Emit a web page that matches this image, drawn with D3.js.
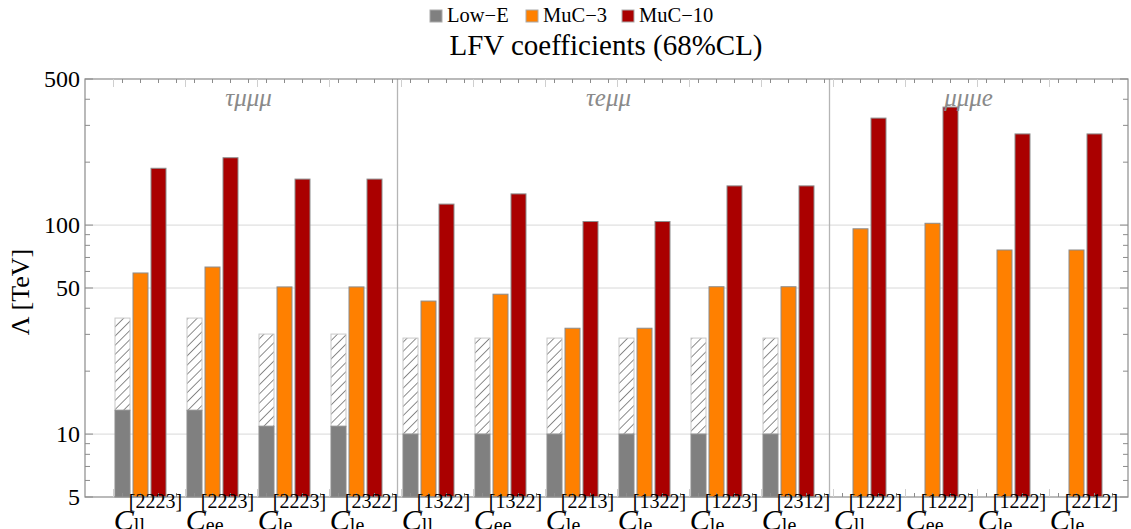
<!DOCTYPE html>
<html>
<head>
<meta charset="utf-8">
<script src="https://cdn.jsdelivr.net/npm/d3@7"></script>
<style>
  body { margin: 0; background: #fff; }
  svg { display: block; font-family: 'Liberation Serif', 'DejaVu Serif', serif; }
</style>
</head>
<body>
<div id="chart"></div>
<script>
// coefficient labels C_sub^[sup]
const coefSub = ['ll', 'ee', 'le', 'le', 'll', 'ee', 'le', 'le', 'le', 'le', 'll', 'ee', 'le', 'le'];
const coefSup = ['2223', '2223', '2223', '2322', '1322', '1322', '2213', '1322', '1223', '2312', '1222', '1222', '1222', '2212'];
const coefGroup = [0, 0, 0, 0, 1, 1, 1, 1, 1, 1, 2, 2, 2, 2];
const groupNames = ['τμμμ', 'τeμμ', 'μμμe'];

const seriesNames = ['Low\u2212E', 'MuC\u22123', 'MuC\u221210'];
const seriesColors = ['#808080', '#ff8000', '#aa0000'];

// Low-E: solid part and hatched upper part (null = no bound)
const lowE = [13.0, 13.0, 10.9, 10.9, 10, 10, 10, 10, 10, 10, null, null, null, null];
const lowEHatch = [35.9, 35.9, 30.1, 30.1, 28.8, 28.8, 28.8, 28.8, 28.8, 28.8, null, null, null, null];
const muc3 = [59, 63, 50.6, 50.6, 43.3, 46.7, 32.1, 32.1, 50.7, 50.7, 96, 102, 76, 76];
const muc10 = [187, 210, 166, 166, 126, 141, 104, 104, 154, 154, 325, 367, 273, 273];

const yMajor = [5, 10, 50, 100, 500];
const yMinor = [6, 7, 8, 9, 20, 30, 40, 60, 70, 80, 90, 200, 300, 400];
const yGrid = [10, 50, 100];

const W = 1131, H = 529;
const plot = { left: 85, right: 1128, top: 79, bottom: 497 };

const svg = d3.select('#chart').append('svg')
  .attr('width', W).attr('height', H);

const defs = svg.append('defs');
defs.append('pattern')
  .attr('id', 'hatch')
  .attr('patternUnits', 'userSpaceOnUse')
  .attr('width', 6.5).attr('height', 6.5)
  .attr('patternTransform', 'rotate(45)')
  .call(p => {
    p.append('rect').attr('width', 6.5).attr('height', 6.5).attr('fill', '#fff');
    p.append('line').attr('x1', 0).attr('y1', 0).attr('x2', 0).attr('y2', 6.5)
      .attr('stroke', '#777').attr('stroke-width', 1.7);
  });

const idx = d3.range(coefSub.length);

const x = d3.scaleBand()
  .domain(idx)
  .range([113.5, 113.5 + 72 * idx.length]);

const slots = ['lowE', 'muc3', 'muc10', 'empty'];
const xs = d3.scaleBand()
  .domain(slots)
  .range([0, x.bandwidth()])
  .paddingInner(1 / 6)
  .paddingOuter(1 / 12);

const y = d3.scaleLog()
  .domain([5, 500])
  .range([plot.bottom, plot.top]);

// grid lines
svg.append('g')
  .selectAll('line')
  .data(yGrid)
  .join('line')
  .attr('x1', plot.left).attr('x2', plot.right)
  .attr('y1', d => y(d)).attr('y2', d => y(d))
  .attr('stroke', '#d8d8d8').attr('stroke-width', 1);

// group dividers
const dividers = [4, 10];
svg.append('g')
  .selectAll('line')
  .data(dividers)
  .join('line')
  .attr('x1', d => x(d) - 4).attr('x2', d => x(d) - 4)
  .attr('y1', plot.top).attr('y2', plot.bottom)
  .attr('stroke', '#b5b5b5').attr('stroke-width', 1.3);

// bars
const bars = svg.append('g').attr('stroke', '#8c8c8c').attr('stroke-width', 1);

const hatchData = idx.filter(i => lowEHatch[i] != null);
bars.selectAll('rect.hatch')
  .data(hatchData)
  .join('rect')
  .attr('class', 'hatch')
  .attr('x', i => x(i) + xs('lowE'))
  .attr('width', xs.bandwidth())
  .attr('y', i => y(lowEHatch[i]))
  .attr('height', i => y(lowE[i]) - y(lowEHatch[i]))
  .attr('fill', 'url(#hatch)')
  .attr('stroke', '#c8c8c8');

const series = [
  { key: 'lowE', vals: lowE, color: seriesColors[0] },
  { key: 'muc3', vals: muc3, color: seriesColors[1] },
  { key: 'muc10', vals: muc10, color: seriesColors[2] }
];

series.forEach(s => {
  bars.selectAll('rect.' + s.key)
    .data(idx.filter(i => s.vals[i] != null))
    .join('rect')
    .attr('class', s.key)
    .attr('x', i => x(i) + xs(s.key))
    .attr('width', xs.bandwidth())
    .attr('y', i => y(s.vals[i]))
    .attr('height', i => plot.bottom - y(s.vals[i]))
    .attr('fill', s.color);
});

// frame
svg.append('rect')
  .attr('x', plot.left).attr('y', plot.top)
  .attr('width', plot.right - plot.left).attr('height', plot.bottom - plot.top)
  .attr('fill', 'none').attr('stroke', '#8c8c8c').attr('stroke-width', 1.2);

// y ticks on left and right
const tickG = svg.append('g').attr('stroke', '#8c8c8c').attr('stroke-width', 1);
[[plot.left, 1], [plot.right, -1]].forEach(([x0, dir]) => {
  tickG.selectAll(null)
    .data(yMajor)
    .join('line')
    .attr('x1', x0).attr('x2', x0 + dir * 8)
    .attr('y1', d => y(d)).attr('y2', d => y(d));
  tickG.selectAll(null)
    .data(yMinor)
    .join('line')
    .attr('x1', x0).attr('x2', x0 + dir * 5)
    .attr('y1', d => y(d)).attr('y2', d => y(d));
});

// x ticks on bottom and top
const slotCenters = [];
idx.forEach(i => slots.forEach(s => slotCenters.push(x(i) + xs(s) + xs.bandwidth() / 2)));
[[plot.bottom, -1], [plot.top, 1]].forEach(([y0, dir]) => {
  tickG.selectAll(null)
    .data(slotCenters)
    .join('line')
    .attr('x1', d => d).attr('x2', d => d)
    .attr('y1', y0).attr('y2', y0 + dir * 4);
  tickG.selectAll(null)
    .data(idx)
    .join('line')
    .attr('x1', i => x(i)).attr('x2', i => x(i))
    .attr('y1', y0).attr('y2', y0 + dir * 8)
    .attr('stroke', '#cfcfcf');
});

// y tick labels
svg.append('g')
  .selectAll('text')
  .data(yMajor)
  .join('text')
  .attr('x', 80)
  .attr('y', d => y(d) + 8)
  .attr('text-anchor', 'end')
  .attr('font-size', 24)
  .attr('fill', '#000')
  .text(d => d);

// y axis title
svg.append('text')
  .attr('transform', `translate(29, 292) rotate(-90)`)
  .attr('text-anchor', 'middle')
  .attr('font-size', 26)
  .text('\u039B [TeV]');

// group labels
groupNames.forEach((name, g) => {
  const members = idx.filter(i => coefGroup[i] === g);
  const x0 = x(members[0]) + xs('lowE');
  const x1 = x(members[members.length - 1]) + xs('muc10') + xs.bandwidth();
  svg.append('text')
    .attr('x', (x0 + x1) / 2)
    .attr('y', 106)
    .attr('text-anchor', 'middle')
    .attr('font-size', 25)
    .attr('font-style', 'italic')
    .attr('fill', '#8a8a8a')
    .text(name);
});

// x labels
idx.forEach(i => {
  const g = svg.append('g');
  g.append('text')
    .attr('x', 0).attr('y', 530)
    .attr('font-size', 30)
    .attr('font-style', 'italic')
    .text('C');
  const sup = g.append('text')
    .attr('x', 15).attr('y', 508)
    .attr('font-size', 20)
    .text('[' + coefSup[i] + ']');
  g.append('text')
    .attr('x', 20).attr('y', 532)
    .attr('font-size', 20)
    .text(coefSub[i]);
  const w = 15 + sup.node().getComputedTextLength();
  g.attr('transform', `translate(${x(i) + x.bandwidth() / 2 - 1.5 - w / 2}, 0)`);
});

// title
svg.append('text')
  .attr('x', 606).attr('y', 55)
  .attr('text-anchor', 'middle')
  .attr('font-size', 29)
  .text('LFV coefficients (68%CL)');

// legend
const legendX = [430, 526, 622];
const legend = svg.append('g');
seriesNames.forEach((name, k) => {
  legend.append('rect')
    .attr('x', legendX[k]).attr('y', 10)
    .attr('width', 12).attr('height', 12)
    .attr('fill', seriesColors[k])
    .attr('stroke', '#aaa').attr('stroke-width', 1);
  legend.append('text')
    .attr('x', legendX[k] + 17).attr('y', 21.5)
    .attr('font-size', 20.5)
    .text(name);
});
</script>
</body>
</html>
